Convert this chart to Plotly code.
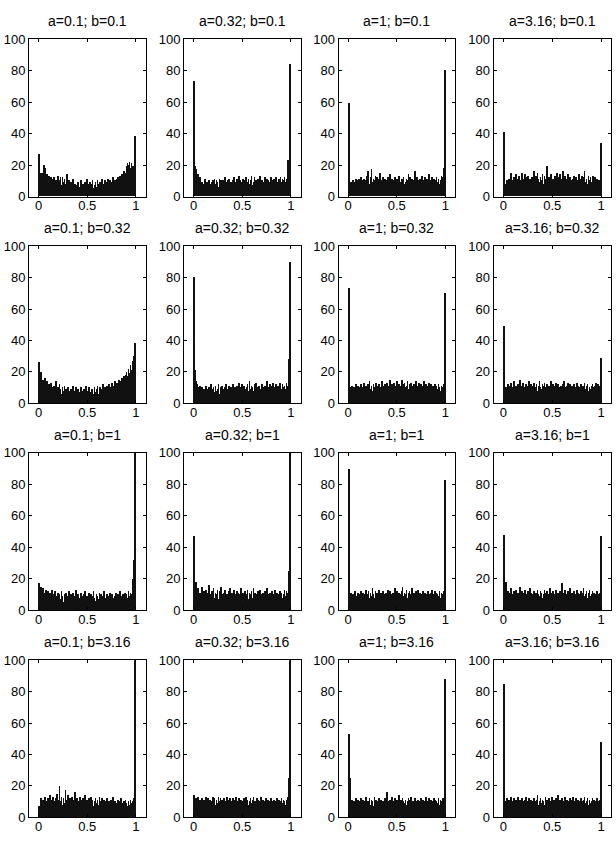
import numpy as np
import plotly.graph_objects as go

a_vals = ["0.1", "0.32", "1", "3.16"]
b_vals = ["0.1", "0.32", "1", "3.16"]

# counts per bin (100 bins on [0,1]); rows = b, cols = a
h_r1c1 = [27,15,14,15,14,20,18,12,14,10,
          13,9,12,8,11,12,9,10,8,13,
          8,10,12,7,12,9,11,6,8,14,
          7,10,6,9,8,11,5,8,6,7,
          9,5,6,10,4,8,7,9,5,11,
          8,6,9,4,8,10,5,7,9,6,
          10,8,5,9,7,11,6,8,10,7,
          9,11,8,10,7,9,12,8,10,9,
          11,12,9,13,10,14,12,16,15,13,
          19,21,20,22,18,21,17,19,18,38]
h_r1c2 = [73,19,17,12,14,10,12,8,9,7,
          8,11,6,9,7,10,8,6,9,10,
          7,11,8,10,9,6,11,9,10,7,
          10,8,12,9,7,10,11,8,9,6,
          10,12,7,9,11,8,13,10,9,7,
          11,8,10,12,6,9,11,8,10,13,
          7,9,12,8,10,6,11,9,13,8,
          10,7,9,12,8,11,10,6,9,12,
          8,10,11,7,12,9,8,11,10,12,
          9,11,10,12,9,11,10,23,21,84]
h_r1c3 = [59,8,9,7,10,8,9,11,8,10,
          11,9,12,10,8,11,10,9,13,16,
          10,8,12,17,9,11,10,13,8,12,
          9,11,15,10,8,12,9,11,10,7,
          12,9,14,8,11,10,9,12,8,11,
          10,13,9,7,11,10,12,8,9,11,
          10,14,9,12,8,11,10,9,16,11,
          12,10,9,11,8,13,10,9,12,8,
          11,9,14,10,8,12,9,11,7,10,
          12,9,11,8,10,13,11,12,18,80]
h_r1c4 = [41,8,7,10,6,11,9,15,8,10,
          12,9,14,7,11,13,10,8,15,11,
          9,14,12,8,13,10,11,7,12,9,
          16,10,13,8,15,11,9,12,10,14,
          8,13,11,9,19,10,12,8,14,7,
          11,9,13,10,15,8,12,14,9,11,
          16,10,13,8,11,14,9,12,10,7,
          11,13,9,12,8,10,14,9,11,13,
          10,12,16,9,11,8,13,10,12,9,
          11,13,10,12,9,11,8,10,8,34]
h_r2c1 = [26,11,20,13,15,12,16,10,14,9,
          12,8,13,10,7,11,9,14,8,10,
          7,12,9,6,10,8,11,7,9,6,
          10,8,5,9,7,11,6,8,10,5,
          9,7,6,10,8,5,9,7,11,6,
          8,10,7,5,9,8,6,10,7,9,
          11,6,8,10,7,9,12,8,10,9,
          11,8,12,10,9,13,11,10,14,12,
          13,11,15,12,14,16,13,17,15,18,
          20,17,22,19,24,21,27,25,30,38]
h_r2c2 = [80,21,14,12,10,9,11,8,10,7,
          9,8,11,6,9,10,7,12,8,9,
          10,7,11,8,9,12,6,10,8,11,
          9,7,10,12,8,9,11,7,10,8,
          12,9,10,7,11,8,13,9,10,12,
          8,11,9,7,10,12,8,14,9,11,
          10,8,12,9,13,7,10,11,9,8,
          12,10,9,11,8,14,10,9,12,8,
          11,13,9,10,12,8,11,9,13,10,
          9,12,10,11,9,13,11,10,28,90]
h_r2c3 = [73,10,9,11,8,10,7,12,9,11,
          10,8,12,9,10,13,8,11,9,12,
          10,14,9,11,8,12,10,9,13,11,
          9,12,10,8,14,11,9,12,10,13,
          11,9,15,10,12,8,13,11,10,14,
          9,12,11,10,15,9,12,13,10,11,
          14,9,12,10,13,11,9,12,10,14,
          11,9,13,10,12,8,11,14,10,12,
          9,11,13,10,12,9,11,8,12,10,
          11,9,12,10,8,11,10,9,12,70]
h_r2c4 = [49,8,10,7,12,9,11,13,8,10,
          14,9,11,8,12,10,15,9,11,13,
          10,8,12,11,9,14,10,12,8,11,
          13,9,10,12,8,11,14,10,9,12,
          11,13,9,10,12,8,11,10,14,9,
          12,10,11,13,9,12,8,10,11,9,
          12,14,10,9,11,13,8,12,10,11,
          9,12,10,8,13,11,9,10,12,8,
          11,10,13,9,11,12,8,10,9,11,
          12,10,9,11,13,10,12,9,11,29]
h_r3c1 = [17,12,15,9,14,11,8,13,10,12,
          9,11,7,13,10,8,12,9,6,11,
          8,10,7,12,9,5,10,8,11,7,
          9,12,6,10,8,11,7,9,13,6,
          10,8,5,11,9,7,10,12,6,9,
          8,11,7,10,5,9,12,8,6,10,
          9,7,11,8,10,6,9,12,7,8,
          10,6,9,11,7,10,8,5,9,11,
          7,10,8,12,9,6,10,8,11,9,
          10,8,12,9,11,10,13,20,32,140]
h_r3c2 = [47,12,18,10,14,9,11,8,15,10,
          12,7,13,9,11,16,8,10,12,9,
          14,8,11,10,13,7,12,9,15,10,
          8,11,13,9,10,7,12,14,8,11,
          9,13,10,8,12,11,7,10,14,9,
          11,8,12,10,9,13,7,11,10,12,
          8,14,9,11,7,10,12,9,13,8,
          10,11,9,12,8,14,10,7,11,9,
          12,10,8,13,9,11,7,10,12,9,
          11,8,10,13,9,12,11,10,25,130]
h_r3c3 = [90,8,11,9,10,7,12,9,8,11,
          10,9,12,8,11,10,7,13,9,10,
          12,8,11,9,14,10,8,12,9,11,
          10,13,8,11,9,12,10,7,11,10,
          13,9,12,10,8,11,9,14,10,12,
          9,11,10,8,12,15,9,11,10,13,
          8,11,12,9,10,14,8,11,9,12,
          10,13,9,11,8,10,12,9,11,10,
          8,12,10,9,11,13,8,10,12,9,
          11,10,9,12,8,11,10,9,12,83]
h_r3c4 = [48,10,18,9,12,8,11,14,10,9,
          12,8,13,10,11,9,15,8,12,10,
          11,13,9,10,12,8,14,11,9,10,
          12,9,11,8,13,10,9,12,11,8,
          10,13,9,11,12,8,10,14,9,11,
          12,9,10,13,8,11,9,12,10,17,
          9,11,13,8,10,12,9,14,10,11,
          8,12,10,9,13,11,8,10,12,9,
          11,14,9,10,12,8,11,13,9,10,
          12,9,11,10,8,12,10,9,11,47]
h_r4c1 = [7,5,12,8,11,6,13,9,10,12,
          8,14,11,9,13,10,7,12,15,9,
          11,20,10,13,8,12,9,17,11,10,
          14,8,12,10,13,9,11,16,8,12,
          10,9,13,11,7,12,10,14,9,11,
          8,12,10,13,9,11,7,10,12,9,
          11,8,13,10,9,12,8,11,10,7,
          12,9,10,8,11,9,13,8,10,7,
          9,11,8,10,12,7,9,10,8,11,
          9,7,10,8,11,9,8,10,12,150]
h_r4c2 = [14,9,12,8,13,10,11,9,12,8,
          11,10,13,9,12,8,11,10,9,13,
          10,12,8,11,9,13,10,12,8,11,
          9,12,10,8,13,11,9,12,10,7,
          12,9,11,13,8,10,12,9,11,10,
          8,12,10,13,9,11,8,10,12,9,
          11,13,8,10,9,12,11,8,10,13,
          9,11,10,8,12,9,11,10,8,12,
          10,9,11,8,10,12,9,11,8,10,
          12,9,11,10,8,11,10,13,25,150]
h_r4c3 = [53,25,9,11,8,10,7,12,9,11,
          10,8,12,9,11,7,10,13,8,10,
          9,12,8,11,10,7,13,9,11,8,
          10,12,9,11,7,10,8,12,9,16,
          10,8,11,9,13,10,8,12,9,11,
          10,14,9,11,8,12,10,9,11,8,
          10,12,9,11,13,8,10,9,12,10,
          8,11,9,10,12,8,11,10,9,13,
          10,8,12,9,11,10,8,12,9,11,
          10,9,12,8,11,10,9,12,10,88]
h_r4c4 = [85,10,8,12,9,11,7,13,10,9,
          12,8,11,10,13,9,11,8,12,10,
          9,11,13,8,10,12,9,11,10,8,
          12,10,9,11,14,8,10,12,9,11,
          10,8,13,9,11,10,12,8,10,13,
          9,11,10,12,8,14,9,11,10,12,
          8,10,13,9,11,10,8,12,9,11,
          13,10,9,12,8,11,10,9,12,10,
          8,11,13,9,10,12,8,11,9,10,
          12,9,11,10,8,12,10,9,11,48]

grid = [[h_r1c1, h_r1c2, h_r1c3, h_r1c4],
        [h_r2c1, h_r2c2, h_r2c3, h_r2c4],
        [h_r3c1, h_r3c2, h_r3c3, h_r3c4],
        [h_r4c1, h_r4c2, h_r4c3, h_r4c4]]

W, H = 616, 844
col_px = [(29, 145.5), (184, 300.5), (338.5, 455), (493.5, 611)]
row_px = [(33, 193), (243.5, 403.5), (454, 614), (665, 825)]

nb = 100
centers = (np.arange(nb) + 0.5) / nb

fig = go.Figure()
annotations = []
font = dict(family="Liberation Sans, Arial, sans-serif", size=13, color="black")
for r in range(4):
    for c in range(4):
        k = r * 4 + c + 1
        xa = "x" if k == 1 else f"x{k}"
        ya = "y" if k == 1 else f"y{k}"
        fig.add_trace(go.Bar(x=centers, y=grid[r][c], width=0.8 / nb,
                             marker=dict(color="#111111", line=dict(width=0)),
                             xaxis=xa, yaxis=ya, showlegend=False,
                             hoverinfo="skip"))
        x0, x1 = col_px[c]
        y0, y1 = row_px[r]
        dx = [x0 / W, x1 / W]
        dy = [1 - y1 / H, 1 - y0 / H]
        axkey = "xaxis" if k == 1 else f"xaxis{k}"
        aykey = "yaxis" if k == 1 else f"yaxis{k}"
        fig.layout[axkey] = dict(domain=dx, anchor=ya, range=[-0.1, 1.1],
                                 tickvals=[0, 0.5, 1], ticktext=["0", "0.5", "1"],
                                 ticks="inside", ticklen=3, tickcolor="black",
                                 showline=True, linecolor="black", linewidth=1,
                                 mirror="ticks", showgrid=False, zeroline=False,
                                 tickfont=font, fixedrange=True,
                                 ticklabelstandoff=-3)
        fig.layout[aykey] = dict(domain=dy, anchor=xa, range=[0, 100],
                                 tickvals=[0, 20, 40, 60, 80, 100],
                                 ticks="inside", ticklen=3, tickcolor="black",
                                 showline=True, linecolor="black", linewidth=1,
                                 mirror="ticks", showgrid=False, zeroline=False,
                                 tickfont=font, fixedrange=True)
        annotations.append(dict(text=f"a={a_vals[c]}; b={b_vals[r]}",
                                x=(dx[0] + dx[1]) / 2, y=dy[1], xref="paper", yref="paper",
                                xanchor="center", yanchor="bottom", yshift=8,
                                showarrow=False,
                                font=dict(family="Liberation Sans, Arial, sans-serif",
                                          size=14, color="black")))

fig.update_layout(width=W, height=H, margin=dict(l=0, r=0, t=0, b=0),
                  paper_bgcolor="white", plot_bgcolor="white",
                  bargap=0, annotations=annotations)

fig.write_html("out.html")
